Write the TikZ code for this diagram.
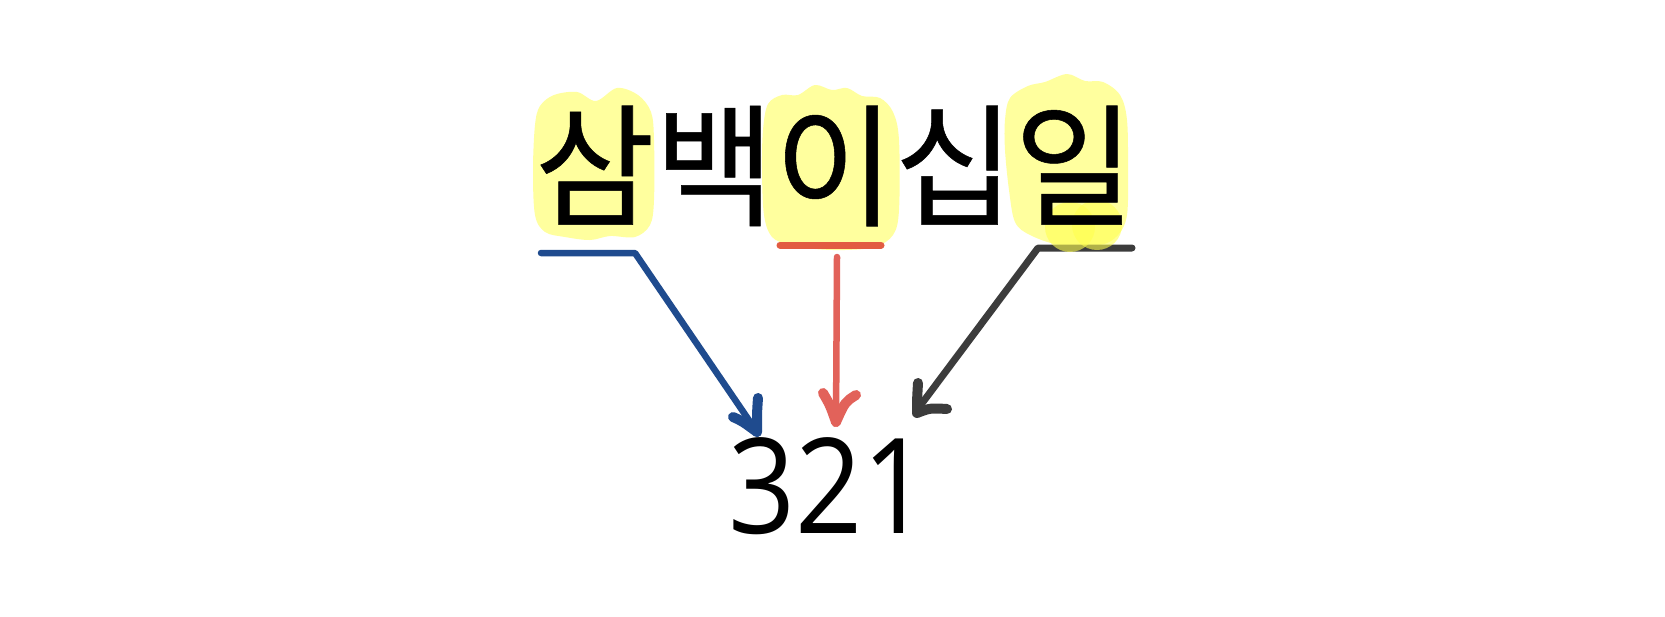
\documentclass[tikz,border=0pt]{standalone}
\usepackage{fontspec}
\usepackage{graphicx}
\newfontfamily\krfont[FakeBold=0.4]{Noto Sans CJK KR}
\newfontfamily\numfont{Open Sans}
\definecolor{hl}{HTML}{FFFF9E}
\definecolor{hlstrong}{HTML}{FFFF50}
\definecolor{blueline}{HTML}{1F4B8E}
\definecolor{redline}{HTML}{E2625A}
\definecolor{redunder}{HTML}{E25C42}
\definecolor{grayline}{HTML}{3C3C3C}
\tikzset{
  hlblob/.style={fill=hl, draw=none},
  conn/.style={line width=6.5pt, line cap=round, line join=round},
  headstroke/.style={line width=10pt, line cap=round, line join=round},
}
\begin{document}
\begin{tikzpicture}[x=1pt,y=-1pt]
\useasboundingbox (0,0) rectangle (1665,616);
\fill[white] (0,0) rectangle (1665,616);
% highlights (hand-drawn marker blobs)
\fill[hlblob] plot[smooth cycle, tension=0.55] coordinates {
  (535,125) (540,106) (554,95) (577,92) (596,101) (617,88) (638,95) (651,112)
  (654,140) (654,200) (650,225) (635,237) (610,236) (590,240) (565,237)
  (545,232) (535,215) (533,170)};
\fill[hlblob] plot[smooth cycle, tension=0.55] coordinates {
  (763,130) (768,104) (782,95) (798,95) (815,85) (832,90) (847,88) (862,96)
  (880,98) (893,112) (899,140) (899,210) (893,235) (875,247) (845,250)
  (815,249) (790,245) (772,237) (764,215) (762,170)};
\fill[hlblob] plot[smooth cycle, tension=0.55] coordinates {
  (1005,120) (1010,98) (1028,86) (1045,82) (1067,74) (1085,81) (1103,82)
  (1120,95) (1127,120) (1128,170) (1127,215) (1118,235) (1100,245)
  (1060,245) (1030,235) (1015,222) (1009,190) (1005,150)};
% named points
\coordinate (bA) at (541,253);
\coordinate (bB) at (635,253);
\coordinate (bT) at (757,432);
\coordinate (bL) at (733,417);
\coordinate (bR) at (758,398);
\coordinate (rA) at (780,245);
\coordinate (rB) at (881,245);
\coordinate (rS) at (837,257);
\coordinate (rT) at (836,422);
\coordinate (rL) at (823,393);
\coordinate (rR) at (856,395);
\coordinate (gA) at (1132,248);
\coordinate (gB) at (1038,248);
\coordinate (gT) at (917,410);
\coordinate (gU) at (918,383);
\coordinate (gC) at (917,413);
\coordinate (gR) at (947,409);
% connectors
\draw[conn, blueline] (bA) -- (bB) -- (bT);
\draw[headstroke, blueline] (bL) .. controls (742,421) .. (bT);
\draw[headstroke, blueline] (bR) .. controls (757,412) .. (bT);
\draw[conn, redunder, line width=7pt] (rA) -- (rB);
\draw[conn, redline] (rS) -- (rT);
\draw[headstroke, redline] (rL) .. controls (830,405) .. (rT);
\draw[headstroke, redline] (rR) .. controls (845,402) .. (rT);
\draw[conn, grayline, line width=7pt] (gA) -- (gB) -- (gT);
\draw[headstroke, grayline] (gU) .. controls (917,400) .. (gC) .. controls (930,408) .. (gR);
% stronger marker spot over the grey underline
\fill[hlstrong, opacity=0.6] (1070,227) circle (25);
\fill[hlstrong, opacity=0.6] (1097,225) circle (25);
% texts
\node[inner sep=0pt, anchor=center] (kr) at (834.5,166)
  {\scalebox{0.98}[1]{\fontsize{133}{133}\krfont 삼백이십일}};
\node[inner sep=0pt, anchor=center] (num) at (829,486)
  {\scalebox{0.887}[1]{\fontsize{132.5}{132.5}\numfont 321}};
\end{tikzpicture}
\end{document}
